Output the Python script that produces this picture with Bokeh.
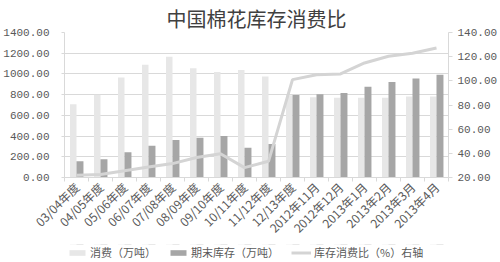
import numpy as np
from bokeh.plotting import figure
from bokeh.layouts import column
from bokeh.models import (Range1d, LinearAxis, FixedTicker, PrintfTickFormatter,
                          ColumnDataSource, Legend, LegendItem, Grid)
from bokeh.embed import file_html
from bokeh.resources import INLINE

categories = ["03/04年度", "04/05年度", "05/06年度", "06/07年度", "07/08年度",
              "08/09年度", "09/10年度", "10/11年度", "11/12年度", "12/13年度",
              "2012年11月", "2012年12月", "2013年1月", "2013年2月", "2013年3月", "2013年4月"]
consumption = [707, 800, 966, 1088, 1165, 1056, 1018, 1037, 976, 795,
               774, 771, 771, 771, 781, 781]
ending_stock = [157, 176, 243, 307, 362, 384, 400, 288, 323, 797,
                803, 816, 877, 922, 957, 992]
stock_ratio = [21.9, 22.5, 25.5, 28.7, 31.5, 36.5, 39.6, 28.2, 33.4, 101.0,
               105.0, 105.7, 114.8, 120.3, 122.8, 127.1]
left_ticks = [0, 200, 400, 600, 800, 1000, 1200, 1400]
right_ticks = [20, 40, 60, 80, 100, 120, 140]
series_names = ["消费（万吨）", "期末库存（万吨）", "库存消费比（%）右轴"]

TXT = "#595959"
CJK = "Noto Sans CJK SC"
NUM = "Liberation Mono"
C_CONS, C_STOCK, C_RATIO = "#e7e7e7", "#a6a6a6", "#d4d4d4"

idx = np.arange(len(categories))
centers = idx + 0.5
src = ColumnDataSource(dict(x=centers, cons=consumption, stock=ending_stock, ratio=stock_ratio,
                            x_c=centers - 0.135, x_s=centers + 0.145))

p = figure(width=500, height=244, output_backend="svg", toolbar_location=None,
           x_range=Range1d(0, len(categories)), y_range=Range1d(0, 1400),
           min_border_left=60, min_border_right=47, min_border_top=32, min_border_bottom=64,
           x_axis_location=None, y_axis_location=None)
p.extra_y_ranges = {"right": Range1d(20, 140)}

p.title.text = "中国棉花库存消费比"
p.title.text_font = CJK
p.title.text_font_size = "20px"
p.title.text_font_style = "normal"
p.title.text_color = "#404040"
p.title.align = "center"
p.title.standoff = 0

p.outline_line_color = None
p.background_fill_color = "white"
p.border_fill_color = "white"

xaxis = LinearAxis(ticker=FixedTicker(ticks=list(centers), minor_ticks=list(np.arange(len(categories) + 1))))
xaxis.major_label_overrides = {float(c): lab for c, lab in zip(centers, categories)}
xaxis.major_label_orientation = np.pi / 4
xaxis.major_label_text_font = CJK
xaxis.major_label_text_font_size = "12px"
xaxis.major_label_text_color = TXT
xaxis.major_tick_line_color = None
xaxis.minor_tick_line_color = "#d9d9d9"
xaxis.minor_tick_out = 4
xaxis.minor_tick_in = 0
xaxis.axis_line_color = "#d9d9d9"
xaxis.major_label_standoff = 1
p.add_layout(xaxis, "below")

yl = LinearAxis(ticker=FixedTicker(ticks=left_ticks), formatter=PrintfTickFormatter(format="%.2f"))
yl.major_label_text_font = NUM
yl.major_label_text_font_size = "11px"
yl.major_label_text_color = TXT
yl.axis_line_color = "#d9d9d9"
yl.major_tick_line_color = "#d9d9d9"
yl.major_tick_out = 3
yl.major_tick_in = 0
yl.minor_tick_line_color = None
yl.major_label_standoff = 12
p.add_layout(yl, "left")

yr = LinearAxis(y_range_name="right", ticker=FixedTicker(ticks=right_ticks),
                formatter=PrintfTickFormatter(format="%.2f"))
yr.major_label_text_font = NUM
yr.major_label_text_font_size = "11px"
yr.major_label_text_color = TXT
yr.axis_line_color = "#d9d9d9"
yr.major_tick_line_color = "#d9d9d9"
yr.major_tick_out = 4
yr.major_tick_in = 0
yr.minor_tick_line_color = None
yr.major_label_standoff = 5
p.add_layout(yr, "right")

p.grid.visible = False
p.add_layout(Grid(dimension=1, ticker=yl.ticker, grid_line_color="#d9d9d9"))

p.vbar(x="x_c", top="cons", width=0.27, bottom=0, source=src, fill_color=C_CONS, line_color=None)
p.vbar(x="x_s", top="stock", width=0.29, bottom=0, source=src, fill_color=C_STOCK, line_color=None)
p.line(x="x", y="ratio", source=src, y_range_name="right", line_color=C_RATIO, line_width=3)

# legend strip below the chart (series drawn again with ranges that keep them out of view;
# only their legend swatches show)
lg = figure(width=500, height=18, output_backend="svg", toolbar_location=None,
            x_range=Range1d(0, len(categories)), y_range=Range1d(-2, -1), min_border=0,
            x_axis_location=None, y_axis_location=None, title_location=None)
lg.extra_y_ranges = {"right": Range1d(-2, -1)}
lg.outline_line_color = None
lg.grid.visible = False
g1 = lg.vbar(x="x_c", top="cons", width=0.27, bottom=0, source=src, fill_color=C_CONS, line_color=None)
g2 = lg.vbar(x="x_s", top="stock", width=0.29, bottom=0, source=src, fill_color=C_STOCK, line_color=None)
g3 = lg.line(x="x", y="ratio", source=src, y_range_name="right", line_color=C_RATIO, line_width=3)
legend = Legend(items=[LegendItem(label=series_names[0], renderers=[g1]),
                       LegendItem(label=series_names[1], renderers=[g2]),
                       LegendItem(label=series_names[2], renderers=[g3])],
                orientation="horizontal", location=(3, 2),
                label_text_font=CJK, label_text_font_size="11px", label_text_color=TXT,
                glyph_width=20, glyph_height=7, label_height=14, label_standoff=3,
                spacing=12, padding=0, margin=0, border_line_color=None,
                background_fill_alpha=0)
lg.add_layout(legend, "center")

layout = column(p, lg, spacing=0)
open("out.html", "w").write(file_html(layout, INLINE))
